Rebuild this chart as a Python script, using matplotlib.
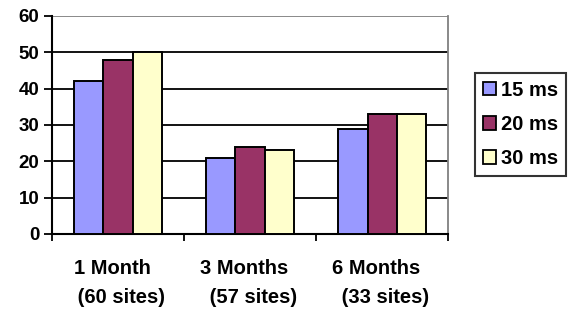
import matplotlib.pyplot as plt
import numpy as np

plt.rcParams['font.family'] = ['Liberation Sans', 'DejaVu Sans']
plt.rcParams['font.weight'] = 'bold'

groups = ['1 Month  \n (60 sites)', '3 Months  \n (57 sites)', '6 Months  \n (33 sites)']
series = ['15 ms', '20 ms', '30 ms']
v15 = [42, 21, 29]
v20 = [48, 24, 33]
v30 = [50, 23, 33]
colors = ['#9999FF', '#993366', '#FFFFCC']

fig = plt.figure(figsize=(5.71, 3.11), dpi=100)
ax = fig.add_axes([0.091, 0.2476, 0.694, 0.701])

x = np.arange(len(groups))
w = 0.222
for i, (vals, c, lab) in enumerate(zip([v15, v20, v30], colors, series)):
    ax.bar(x + (i - 1) * w, vals, w, color=c, edgecolor='black', linewidth=1.4,
           label=lab, zorder=3)

ax.set_xlim(-0.5, 2.5)
ax.set_ylim(0, 60)
ax.set_yticks(range(0, 61, 10))
ax.set_yticklabels([str(t) for t in range(0, 61, 10)], fontsize=13.5, fontweight='bold')
for t in range(10, 51, 10):
    ax.axhline(t, color='black', lw=1.3, zorder=1)
ax.axhline(60, color='#808080', lw=1.3, zorder=1)

ax.set_xticks([-0.5, 0.5, 1.5, 2.5])
ax.set_xticklabels([])
ax.set_xticks(x, minor=True)
ax.set_xticklabels(groups, minor=True, fontsize=14.5, fontweight='bold', linespacing=1.65)
ax.tick_params(axis='x', which='minor', length=0, pad=18)
ax.tick_params(axis='x', which='major', length=5, width=1.3, direction='out')
ax.tick_params(axis='y', length=6, width=1.3, direction='out', pad=3)

ax.spines['top'].set_visible(False)
ax.spines['right'].set_color('#808080')
ax.spines['right'].set_linewidth(1.3)
ax.spines['left'].set_linewidth(1.5)
ax.spines['bottom'].set_linewidth(1.5)

leg = fig.legend(loc='center', bbox_to_anchor=(0.9116, 0.600), fontsize=14.5,
                 frameon=True, fancybox=False, edgecolor='black',
                 handlelength=0.65, handleheight=0.65, handletextpad=0.25,
                 labelspacing=0.75, borderpad=0.4, borderaxespad=0)
leg.get_frame().set_linewidth(1.5)
for h in leg.legend_handles:
    h.set_linewidth(1.3)

fig.savefig('out.png', dpi=100)
